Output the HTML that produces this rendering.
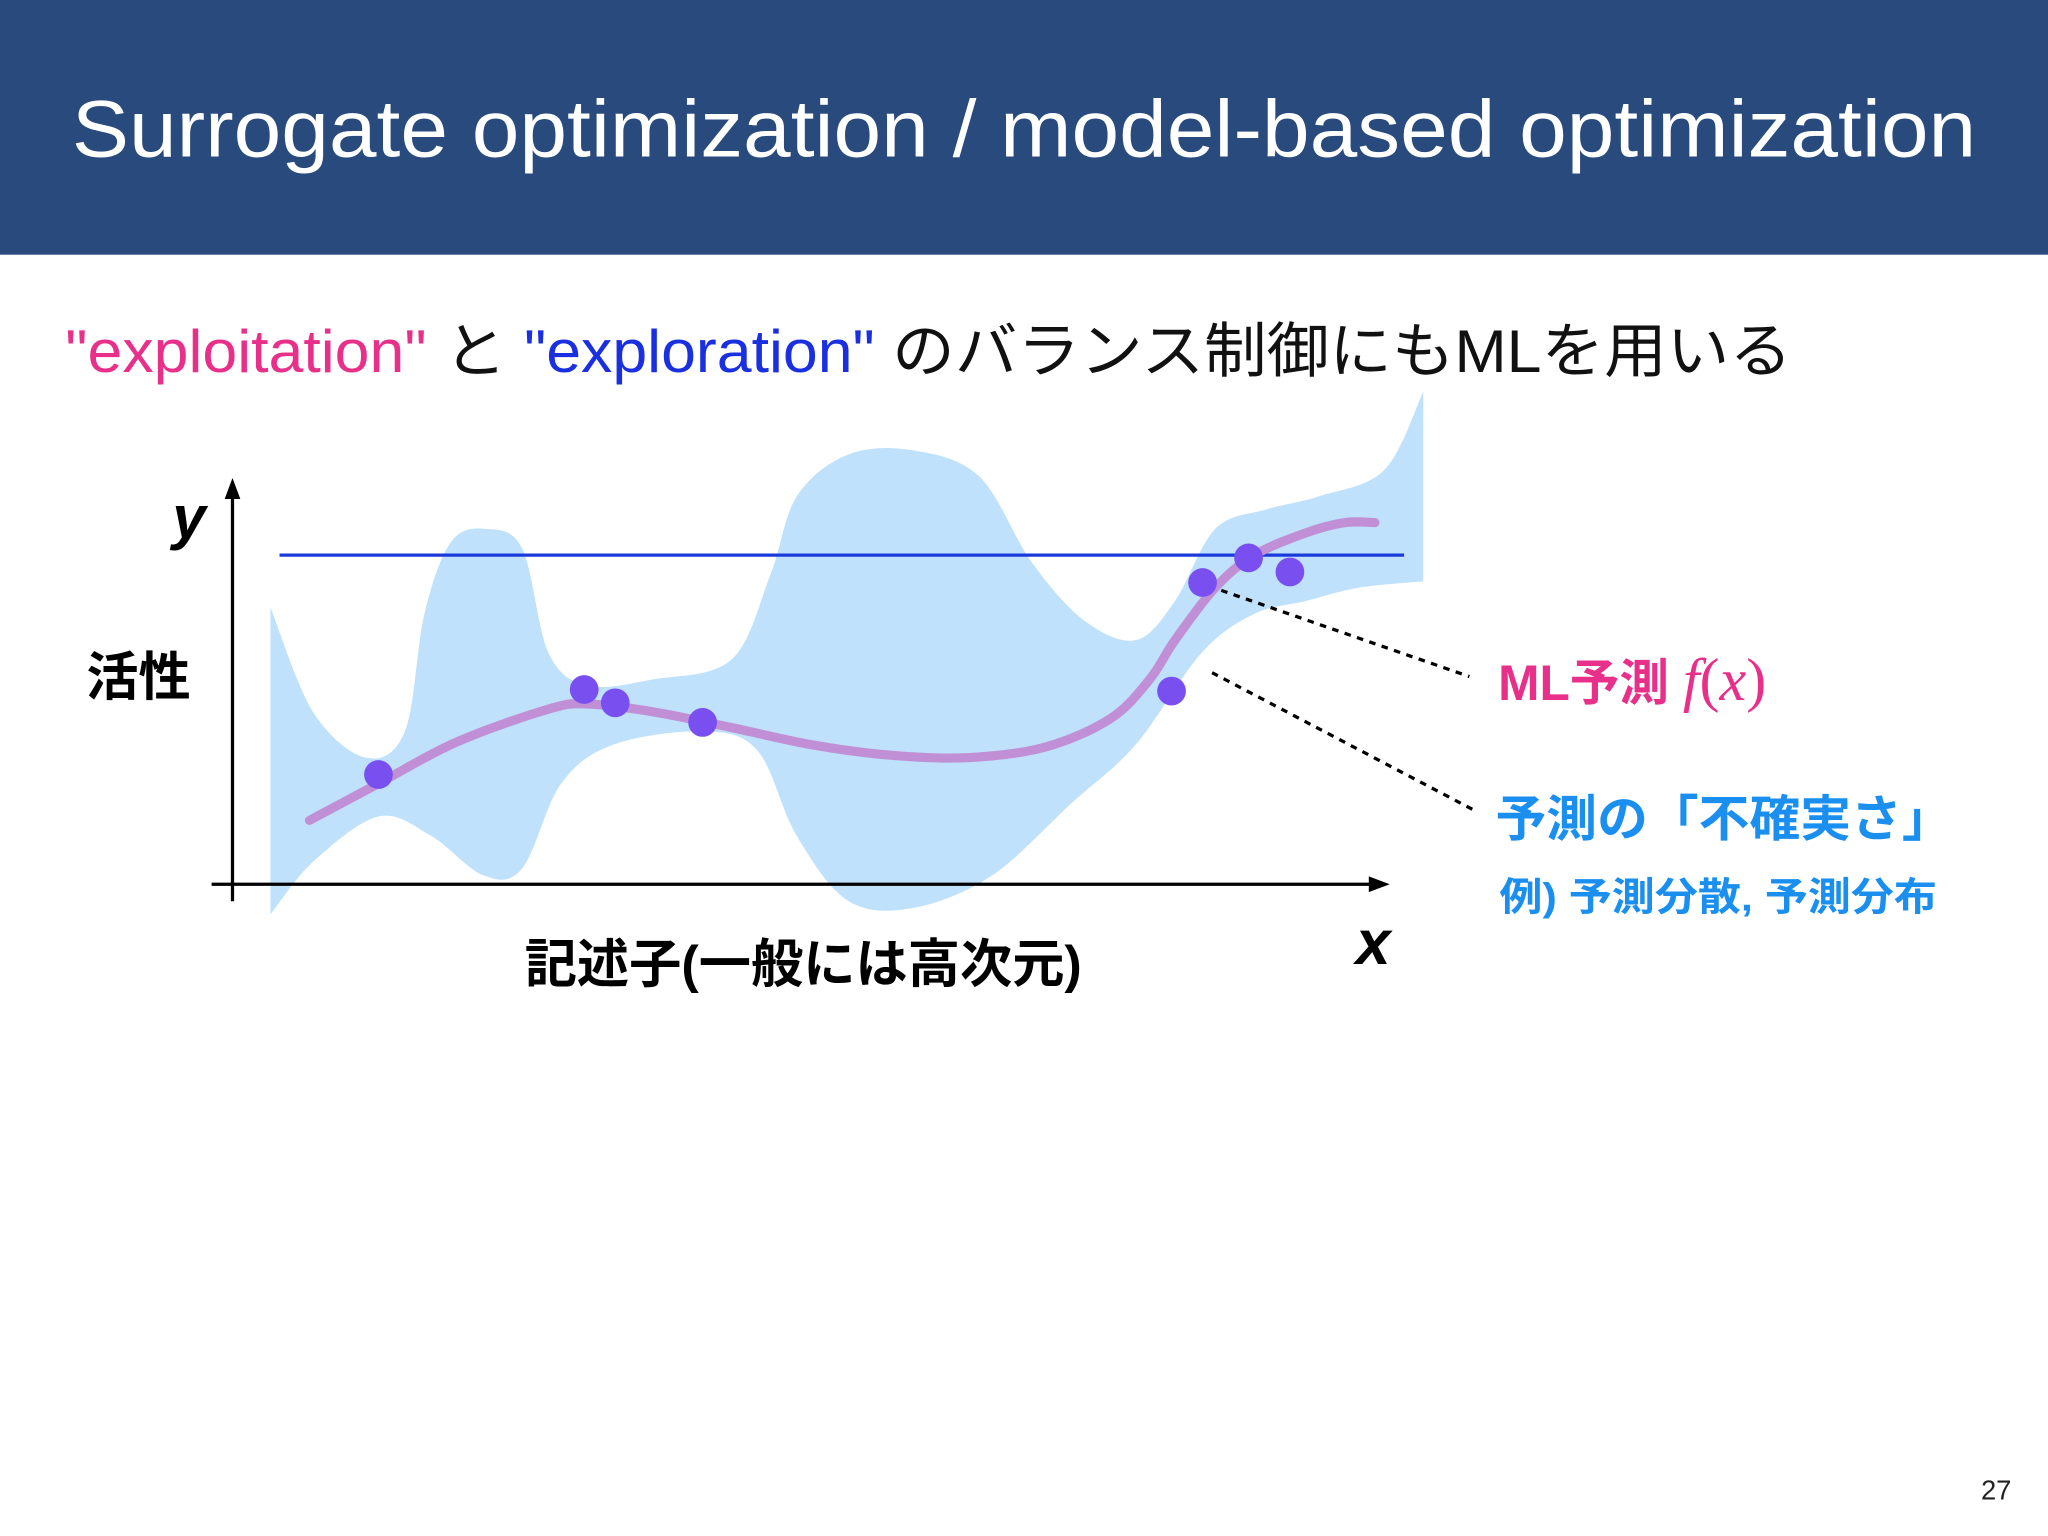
<!DOCTYPE html>
<html><head><meta charset="utf-8"><style>
html,body{margin:0;padding:0;background:#fff;}
svg{display:block;}
text{font-family:"Liberation Sans","Noto Sans CJK JP",sans-serif;}
</style></head><body>
<svg id="s" width="2048" height="1536" viewBox="0 0 1568 1176" xmlns="http://www.w3.org/2000/svg">
<rect x="0" y="0" width="1568" height="195" fill="#284a7d"/>
<text x="55" y="120" font-size="62" fill="#fff" textLength="1458" lengthAdjust="spacingAndGlyphs">Surrogate optimization / model-based optimization</text>
<text x="50" y="285" font-size="46" textLength="1322" lengthAdjust="spacingAndGlyphs"><tspan fill="#e8308a">"exploitation"</tspan><tspan fill="#111"> と </tspan><tspan fill="#1a2fe0">"exploration"</tspan><tspan fill="#111"> のバランス制御にもMLを用いる</tspan></text>
<g id="band-layer"></g>
<line x1="214" y1="425" x2="1075" y2="425" stroke="#1a3adb" stroke-width="2.5" id="thr"/>
<g id="curve-layer"></g>
<g id="pts-layer"></g>
<line x1="178" y1="690" x2="178" y2="375" stroke="#000" stroke-width="2.5"/>
<polygon points="178,366 172,382 184,382" fill="#000"/>
<line x1="162" y1="677" x2="1052" y2="677" stroke="#000" stroke-width="2.5"/>
<polygon points="1064,677 1048,671 1048,683" fill="#000"/>
<text x="132" y="412" font-size="46" font-style="italic" font-weight="bold" font-family="Liberation Serif,serif">y</text>
<text x="66" y="532" font-size="40" font-weight="bold">活性</text>
<text x="615" y="752" font-size="40" font-weight="bold" text-anchor="middle">記述子(一般には高次元)</text>
<text x="1038" y="738" font-size="48" font-style="italic" font-weight="bold" font-family="Liberation Serif,serif">x</text>
<line x1="935" y1="452" x2="1125" y2="518" stroke="#000" stroke-width="2.5" stroke-dasharray="5,5"/>
<line x1="928" y1="515" x2="1128" y2="620" stroke="#000" stroke-width="2.5" stroke-dasharray="5,5"/>
<text x="1147" y="536" font-size="38" font-weight="bold" fill="#e8308a">ML予測 <tspan font-family="Liberation Serif,serif" font-style="italic" font-weight="normal" font-size="46">f</tspan><tspan font-family="Liberation Serif,serif" font-weight="normal" font-size="46">(</tspan><tspan font-family="Liberation Serif,serif" font-style="italic" font-weight="normal" font-size="46">x</tspan><tspan font-family="Liberation Serif,serif" font-weight="normal" font-size="46">)</tspan></text>
<text x="1145" y="640" font-size="38" font-weight="bold" fill="#1a8ff0" textLength="350" lengthAdjust="spacingAndGlyphs">予測の「不確実さ」</text>
<text x="1148" y="697" font-size="30" font-weight="bold" fill="#1a8ff0" textLength="335" lengthAdjust="spacingAndGlyphs">例) 予測分散, 予測分布</text>
<text x="1540" y="1148" font-size="21" fill="#222" text-anchor="end">27</text>
</svg>
<script>
const upperX=[0.33,0.7,1.16,1.5,1.67,1.9,2.2,2.52,2.75,3.09,3.66,4.34,4.68,4.91,5.36,5.93,6.5,6.95,7.41,7.86,8.2,8.55,9.0,9.45,10.02,10.36];
const upperY=[7.07,4.4,3.23,3.9,6.9,8.73,9.07,8.57,5.9,5.07,5.23,5.73,7.9,9.9,10.97,11.07,10.4,8.23,6.73,6.23,7.23,9.07,9.57,9.9,10.57,12.57];
const lowerX=[0.33,0.7,1.27,1.73,2.18,2.52,2.86,3.32,4.11,4.57,4.91,5.36,5.93,6.61,7.3,7.86,8.43,8.89,9.34,9.8,10.36];
const lowerY=[-0.77,0.57,1.73,1.23,0.23,0.4,2.57,3.57,3.9,3.4,1.23,-0.43,-0.6,0.23,2.07,3.57,5.9,6.9,7.23,7.57,7.73];
const meanX=[0.67,1.27,1.95,2.75,3.09,3.66,4.34,5.02,5.7,6.39,7.07,7.64,7.98,8.2,8.55,8.89,9.34,9.68,9.94];
const meanY=[1.63,2.57,3.63,4.47,4.6,4.4,4.0,3.57,3.3,3.23,3.5,4.23,5.23,6.23,7.57,8.4,8.97,9.23,9.23];
const obsX=[1.27,3.06,3.33,4.09,8.17,8.44,8.84,9.2];
const obsY=[2.8,4.97,4.63,4.13,4.93,7.7,8.33,7.97];
const threshold=8.4;
const sx=v=>178+v*88, sy=v=>677-v*30;
const NS='http://www.w3.org/2000/svg';
function smooth(xs,ys,start){
  const p=xs.map((x,i)=>[sx(x),sy(ys[i])]);
  let d=(start?'M':'L')+p[0][0]+','+p[0][1];
  for(let i=0;i<p.length-1;i++){
    const p0=p[Math.max(0,i-1)],p1=p[i],p2=p[i+1],p3=p[Math.min(p.length-1,i+2)];
    const c1=[p1[0]+(p2[0]-p0[0])/6,p1[1]+(p2[1]-p0[1])/6];
    const c2=[p2[0]-(p3[0]-p1[0])/6,p2[1]-(p3[1]-p1[1])/6];
    d+=` C${c1[0]},${c1[1]} ${c2[0]},${c2[1]} ${p2[0]},${p2[1]}`;
  }
  return d;
}
const band=document.createElementNS(NS,'path');
band.setAttribute('d',smooth(upperX,upperY,true)+smooth(lowerX.slice().reverse(),lowerY.slice().reverse(),false)+'Z');
band.setAttribute('fill','#bfe1fb');


document.getElementById('band-layer').appendChild(band);
const thr=document.getElementById('thr');
thr.setAttribute('y1',sy(threshold));thr.setAttribute('y2',sy(threshold));
const curve=document.createElementNS(NS,'path');
curve.setAttribute('d',smooth(meanX,meanY,true));
curve.setAttribute('fill','none');curve.setAttribute('stroke','#c08fd6');curve.setAttribute('stroke-width','7');curve.setAttribute('stroke-linecap','round');


document.getElementById('curve-layer').appendChild(curve);
obsX.forEach((x,i)=>{
  const c=document.createElementNS(NS,'circle');
  c.setAttribute('cx',sx(x));c.setAttribute('cy',sy(obsY[i]));c.setAttribute('r','11');c.setAttribute('fill','#7a4ff0');
  
  
  document.getElementById('pts-layer').appendChild(c);
});
</script>
</body></html>
